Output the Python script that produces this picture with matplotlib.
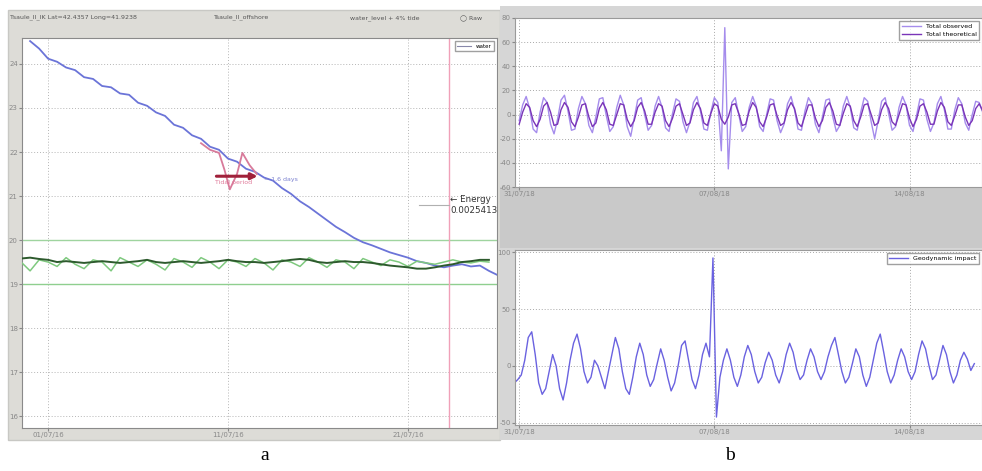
import numpy as np
import matplotlib
matplotlib.use("Agg")
import matplotlib.pyplot as plt
from matplotlib.patches import Rectangle, FancyArrowPatch

# ---------------- data: panel a ----------------
a_step = 0.5
a_start = -1.0
blue_temp = [24.52, 24.35, 24.12, 24.05, 23.92, 23.86, 23.70, 23.66, 23.50, 23.47,
             23.33, 23.30, 23.12, 23.05, 22.90, 22.82, 22.62, 22.55, 22.38, 22.30,
             22.12, 22.05, 21.85, 21.78, 21.62, 21.55, 21.42, 21.35, 21.18, 21.05,
             20.88, 20.75, 20.60, 20.45, 20.30, 20.18, 20.05, 19.95, 19.88, 19.80,
             19.72, 19.66, 19.60, 19.52, 19.48, 19.42, 19.38, 19.42, 19.45, 19.40,
             19.42, 19.30, 19.20]
pink_days = [8.5, 9.0, 9.5, 9.8, 10.1, 10.5, 10.8, 11.2, 11.6]
pink_vals = [22.2, 22.05, 21.98, 21.6, 21.15, 21.5, 21.98, 21.7, 21.5]
green_dark = [19.58, 19.60, 19.57, 19.55, 19.50, 19.52, 19.50, 19.48, 19.50, 19.52,
              19.50, 19.48, 19.50, 19.52, 19.55, 19.50, 19.48, 19.50, 19.52, 19.50,
              19.48, 19.50, 19.52, 19.55, 19.52, 19.50, 19.50, 19.48, 19.50, 19.52,
              19.55, 19.57, 19.55, 19.50, 19.48, 19.50, 19.52, 19.50, 19.50, 19.48,
              19.45, 19.42, 19.40, 19.38, 19.35, 19.35, 19.38, 19.42, 19.45, 19.50,
              19.52, 19.55, 19.55]
green_light = [19.50, 19.30, 19.55, 19.50, 19.40, 19.60, 19.45, 19.35, 19.55, 19.50,
               19.30, 19.60, 19.50, 19.40, 19.55, 19.45, 19.32, 19.58, 19.50, 19.38,
               19.60, 19.50, 19.35, 19.55, 19.50, 19.40, 19.58, 19.48, 19.32, 19.55,
               19.50, 19.40, 19.60, 19.50, 19.38, 19.55, 19.50, 19.35, 19.58, 19.50,
               19.42, 19.55, 19.50, 19.40, 19.52, 19.48, 19.45, 19.50, 19.55, 19.50,
               19.48, 19.52, 19.50]
a_yticks = [16, 17, 18, 19, 20, 21, 22, 23, 24]
a_xticks = [0, 10, 20]
a_xlabels = ["01/07/16", "11/07/16", "21/07/16"]

# ---------------- data: panel b ----------------
b_step = 0.125
total_observed = [-5, 8, 15, 5, -12, -15, 2, 14, 10, -8, -16, -4, 12, 16, 3, -13, -12, 5, 15, 9,
                  -9, -15, -2, 13, 14, -1, -14, -10, 6, 16, 8, -10, -18, -3, 12, 14, 0, -13, -9, 7,
                  15, 6, -11, -14, 1, 13, 11, -6, -15, -6, 10, 15, 3, -12, -13, 2, 14, 10, -30, 72,
                  -45, 10, 14, 0, -14, -10, 6, 15, 7, -10, -14, 0, 13, 12, -5, -15, -8, 9, 15, 4,
                  -12, -13, 3, 14, 9, -8, -15, -2, 12, 13, -2, -14, -9, 7, 15, 6, -11, -13, 2, 14,
                  11, -6, -20, -5, 11, 14, 1, -13, -10, 6, 15, 8, -9, -14, -1, 13, 12, -4, -14, -7,
                  9, 15, 4, -12, -12, 4, 14, 9, -7, -13, 0, 11, 10, 2]
total_theoretical = [-8, 2, 9, 6, -5, -10, -4, 7, 10, 2, -9, -8, 4, 10, 6, -6, -10, -2, 8, 9,
                     -2, -10, -7, 5, 10, 4, -8, -9, 0, 9, 8, -4, -10, -5, 6, 10, 3, -8, -8, 2,
                     9, 7, -5, -10, -3, 7, 9, 0, -9, -7, 4, 10, 5, -7, -9, 1, 9, 7, -4, -8,
                     -2, 8, 9, 1, -9, -8, 3, 10, 6, -6, -10, -2, 8, 9, -1, -9, -7, 4, 10, 5,
                     -7, -10, -1, 8, 8, -3, -10, -5, 6, 10, 3, -8, -9, 1, 9, 7, -5, -10, -2, 8,
                     9, 0, -9, -7, 4, 10, 5, -6, -9, 0, 9, 8, -3, -10, -4, 7, 9, 2, -8, -8,
                     3, 10, 6, -6, -9, -1, 8, 8, -2, -9, -5, 5, 9, 3]
geodynamic = [-10, -15, -12, -8, 5, 25, 30, 10, -15, -25, -20, -5, 10, 0, -20, -30, -15, 5, 20, 28,
              15, -5, -15, -10, 5, 0, -10, -20, -5, 10, 25, 15, -5, -20, -25, -10, 8, 20, 10, -8,
              -18, -12, 2, 15, 5, -10, -22, -15, 0, 18, 22, 5, -12, -20, -8, 10, 20, 8, 95, -45,
              -10, 5, 15, 5, -10, -18, -8, 8, 18, 10, -5, -15, -10, 3, 12, 5, -8, -15, -5, 10,
              20, 12, -3, -12, -8, 5, 15, 8, -5, -12, -5, 8, 18, 25, 10, -5, -15, -10, 2, 15,
              8, -8, -18, -10, 5, 20, 28, 12, -5, -15, -8, 5, 15, 8, -5, -12, -5, 10, 22, 15,
              0, -12, -8, 5, 18, 10, -5, -15, -8, 5, 12, 6, -4, 2]
b_top_yticks = [-60, -40, -20, 0, 20, 40, 60, 80]
b_bot_yticks = [-50, 0, 50, 100]
b_xticks = [0, 7, 14]
b_xlabels = ["31/07/18", "07/08/18", "14/08/18"]

W, H = 982, 471
fig = plt.figure(figsize=(W / 100, H / 100), dpi=100)
fig.patch.set_facecolor("white")


def fx(px):
    return px / W


def fy(py):
    return 1 - py / H


# background windows
fig.patches.append(Rectangle((fx(8), fy(440)), fx(492), (440 - 10) / H,
                             transform=fig.transFigure, facecolor="#dddcd7",
                             edgecolor="#c8c8c4", zorder=-5))
fig.patches.append(Rectangle((fx(500), fy(440)), fx(482), (440 - 6) / H,
                             transform=fig.transFigure, facecolor="#d6d6d6",
                             edgecolor="none", zorder=-5))
fig.patches.append(Rectangle((fx(500), fy(248)), fx(482), (248 - 187) / H,
                             transform=fig.transFigure, facecolor="#c9c9c9",
                             edgecolor="none", zorder=-4))

tick_col = "#7a7a60"

# ---------------- panel a ----------------
axa = fig.add_axes([fx(22), fy(428), fx(475), (428 - 38) / H])
axa.set_facecolor("white")
a_days = a_start + a_step * np.arange(len(blue_temp))
g_days = a_start - 0.5 + a_step * np.arange(len(green_dark))
axa.plot(a_days, blue_temp, color="#6b74d8", lw=1.3, zorder=3)
axa.plot(g_days, green_light, color="#7fc97f", lw=1.1, zorder=3)
axa.plot(g_days, green_dark, color="#2d5a2d", lw=1.4, zorder=4)
axa.plot(pink_days, pink_vals, color="#d87a9a", lw=1.3, zorder=4)
axa.axhline(20, color="#9fd49f", lw=1.0, zorder=2)
axa.axhline(19, color="#8fcf8f", lw=1.0, zorder=2)
axa.axvline(22.3, color="#f0a0b8", lw=1.0, zorder=2)
axa.plot([20.6, 22.3], [20.8, 20.8], color="#b0b0b0", lw=0.8)
axa.set_xlim(-1.45, 24.95)
axa.set_ylim(15.73, 24.59)
axa.set_yticks(a_yticks)
axa.set_yticklabels([str(v) for v in a_yticks], fontsize=5, color=tick_col)
axa.set_xticks(a_xticks)
axa.set_xticklabels(a_xlabels, fontsize=5, color="#6a6a6a")
axa.grid(True, ls=(0, (1, 2)), color="#b5b5b5", lw=0.7)
axa.tick_params(length=2, pad=1, colors="#888888")
for s in axa.spines.values():
    s.set_color("#8a8a8a")
ar = FancyArrowPatch((9.2, 21.45), (11.8, 21.45), arrowstyle="-|>", mutation_scale=9,
                     color="#a0203a", lw=2.2, zorder=6)
axa.add_patch(ar)
axa.text(9.3, 21.28, "Tidal period", fontsize=4.5, color="#e07a9a", zorder=6)
axa.text(12.0, 21.35, "= 1.6 days", fontsize=4.5, color="#7a80d0", zorder=6)
axa.text(22.35, 20.8, "← Energy\n0.0025413", fontsize=6.3, color="#333333",
         va="center", linespacing=1.3)
leg = axa.legend([plt.Line2D([], [], color="#8888aa", lw=0.8)], ["water"],
                 loc="upper right", fontsize=4, frameon=True, handlelength=2.5,
                 borderpad=0.5, fancybox=False)
leg.get_frame().set_edgecolor("#888888")

fig.text(fx(10), fy(17), "Tsaule_II_IK Lat=42.4357 Long=41.9238", fontsize=4.5,
         color="#555555", va="center")
fig.text(fx(242), fy(17), "Tsaule_II_offshore", fontsize=4.5, color="#555555",
         va="center", ha="center")
fig.text(fx(385), fy(18), "water_level + 4% tide", fontsize=4.5, color="#555555",
         va="center", ha="center")
fig.text(fx(460), fy(19), "◯ Raw", fontsize=4.5, color="#555555", va="center")

# ---------------- panel b top ----------------
axt = fig.add_axes([fx(515), fy(187), fx(467), (187 - 18) / H])
axt.set_facecolor("white")
t_obs = b_step * np.arange(len(total_observed))
t_the = b_step * np.arange(len(total_theoretical))
axt.plot(t_obs, total_observed, color="#a58cec", lw=1.0, label="Total observed")
axt.plot(t_the, total_theoretical, color="#7a35b8", lw=1.0, label="Total theoretical")
axt.set_xlim(-0.15, 16.6)
axt.set_ylim(-60, 80)
axt.set_yticks(b_top_yticks)
axt.set_yticklabels([str(v) for v in b_top_yticks], fontsize=5, color=tick_col)
axt.set_xticks(b_xticks)
axt.set_xticklabels(b_xlabels, fontsize=5, color="#555555")
axt.grid(True, ls=(0, (1, 2)), color="#a8a8a8", lw=0.7)
axt.tick_params(length=2, pad=1, colors="#888888")
for s in axt.spines.values():
    s.set_color("#9a9a9a")
lt = axt.legend(loc="upper right", fontsize=4.5, frameon=True, fancybox=False,
                handlelength=3, borderpad=0.4)
lt.get_frame().set_edgecolor("#888888")

# ---------------- panel b bottom ----------------
axb = fig.add_axes([fx(515), fy(425), fx(467), (425 - 250) / H])
axb.set_facecolor("white")
t_geo = b_step * np.arange(len(geodynamic)) - 0.3
axb.plot(t_geo, geodynamic, color="#6a62e0", lw=1.0, label="Geodynamic impact")
axb.set_xlim(-0.15, 16.6)
axb.set_ylim(-52, 102)
axb.set_yticks(b_bot_yticks)
axb.set_yticklabels([str(v) for v in b_bot_yticks], fontsize=5, color=tick_col)
axb.set_xticks(b_xticks)
axb.set_xticklabels(b_xlabels, fontsize=5, color="#555555")
axb.grid(True, ls=(0, (1, 2)), color="#a8a8a8", lw=0.7)
axb.tick_params(length=2, pad=1, colors="#888888")
for s in axb.spines.values():
    s.set_color("#9a9a9a")
lb = axb.legend(loc="upper right", fontsize=4.5, frameon=True, fancybox=False,
                handlelength=3, borderpad=0.4)
lb.get_frame().set_edgecolor("#888888")

# captions
fig.text(fx(265), fy(456), "a", fontsize=14, family="Liberation Serif",
         ha="center", va="center")
fig.text(fx(730), fy(456), "b", fontsize=14, family="Liberation Serif",
         ha="center", va="center")

fig.savefig("out.png", dpi=100)
